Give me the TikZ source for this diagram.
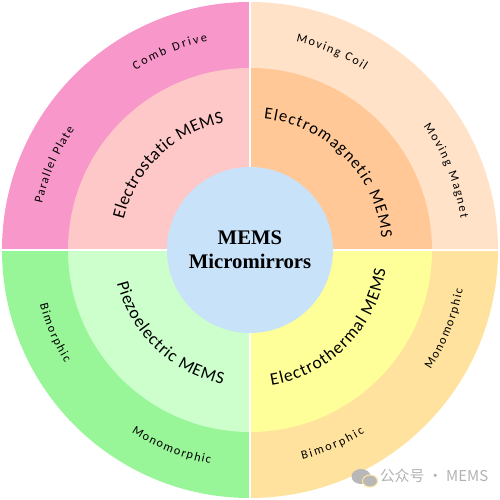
\documentclass[tikz,border=0pt]{standalone}
\usepackage{fontspec}
\newfontfamily\labelfont{Carlito}
\newfontfamily\titlefont{Liberation Serif}
\newfontfamily\cjk{Noto Sans CJK SC}
\usetikzlibrary{decorations.text}

\definecolor{staticOut}{RGB}{248,152,202}
\definecolor{staticIn}{RGB}{255,200,200}
\definecolor{magOut}{RGB}{255,226,200}
\definecolor{magIn}{RGB}{255,200,150}
\definecolor{piezoOut}{RGB}{152,246,152}
\definecolor{piezoIn}{RGB}{204,255,204}
\definecolor{thermOut}{RGB}{255,226,158}
\definecolor{thermIn}{RGB}{255,255,153}
\definecolor{coreFill}{RGB}{200,226,250}

% curved label: start angle, end angle, radius, size, text
\newcommand\arclabel[5]{%
  \path[decorate, decoration={text along path, text align={fit to path},
    text={|\labelfont\fontsize{#4}{#4}\selectfont|#5}}]
    (#1:#3) arc[start angle=#1, end angle=#2, radius=#3];}

\begin{document}
\begin{tikzpicture}[
  core/.style={circle, fill=coreFill, minimum size=3.32cm, inner sep=0pt},
  title/.style={font=\titlefont\bfseries\fontsize{11.8}{13.5}\selectfont, align=center},
  watermark/.style={text=black!30, font=\cjk\fontsize{8.5}{9}\selectfont}]
	\useasboundingbox (-5,-5) rectangle (5,5);

	% sectors
	\foreach \a/\o/\i in {90/staticOut/staticIn, 0/magOut/magIn,
	                      180/piezoOut/piezoIn, 270/thermOut/thermIn} {
		\fill[\o] (0,0) -- (\a:4.96) arc[start angle=\a, end angle=\a+90, radius=4.96] -- cycle;
		\fill[\i] (0,0) -- (\a:3.64) arc[start angle=\a, end angle=\a+90, radius=3.64] -- cycle;
	}
	\foreach \a in {0,90,180,270}
		\draw[white, line width=1.2pt] (\a:1.6) -- (\a:5);

	\node[core] (hub) at (0,0) {};
	\node[title] (name) at (hub) {MEMS\\Micromirrors};

	% electrostatic
	\arclabel{166.5}{101.5}{2.60}{10}{Electrostatic MEMS}
	\arclabel{122.5}{101.5}{4.26}{7}{Comb Drive}
	\arclabel{167.5}{145.5}{4.26}{7}{Parallel Plate}
	% electromagnetic
	\arclabel{84}{5}{2.64}{9.5}{Electromagnetic MEMS}
	\arclabel{77.5}{57.5}{4.26}{7}{Moving Coil}
	\arclabel{35.5}{8.5}{4.26}{7}{Moving Magnet}
	% piezoelectric
	\arclabel{194}{258.5}{2.74}{10}{Piezoelectric MEMS}
	\arclabel{194.5}{211.5}{4.34}{7}{Bimorphic}
	\arclabel{237}{259.5}{4.35}{7}{Monomorphic}
	% electrothermal
	\arclabel{279}{352}{2.74}{10}{Electrothermal MEMS}
	\arclabel{284}{302}{4.32}{7}{Bimorphic}
	\arclabel{326.5}{349.5}{4.33}{7}{Monomorphic}

	% watermark
	\fill[black!28] (2.22,-4.53) ellipse (0.19 and 0.15);
	\fill[black!28, draw=thermOut, line width=0.6pt] (2.40,-4.62) ellipse (0.15 and 0.12);
	\node[watermark] (tag) at (3.68,-4.52) {公众号 · MEMS};
\end{tikzpicture}
\end{document}
